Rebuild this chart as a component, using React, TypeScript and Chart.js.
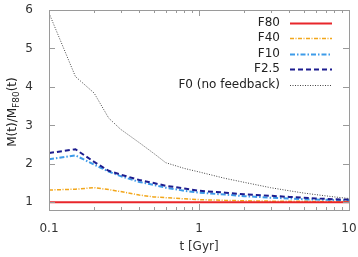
import React, { useEffect, useRef } from 'react';
import { Chart, registerables } from 'chart.js';
Chart.register(...registerables);

const times = [0.1, 0.15, 0.2, 0.25, 0.3, 0.4, 0.5, 0.6, 0.8, 1, 1.5, 2, 3, 4, 5, 6, 8, 10];
const f80 = [1, 1, 1, 1, 1, 1, 1, 1, 1, 1, 1, 1, 1, 1, 1, 1, 1, 1];
const f40 = [1.32, 1.34, 1.38, 1.33, 1.28, 1.19, 1.14, 1.12, 1.09, 1.07, 1.05, 1.04, 1.03, 1.03, 1.03, 1.02, 1.02, 1.02];
const f10 = [2.12, 2.22, 1.98, 1.8, 1.68, 1.53, 1.45, 1.38, 1.3, 1.25, 1.2, 1.16, 1.12, 1.1, 1.08, 1.07, 1.06, 1.05];
const f25 = [2.28, 2.38, 2.05, 1.82, 1.72, 1.58, 1.5, 1.43, 1.36, 1.3, 1.25, 1.21, 1.17, 1.14, 1.12, 1.1, 1.08, 1.07];
const f0 = [5.92, 4.27, 3.84, 3.19, 2.9, 2.55, 2.27, 2.03, 1.88, 1.79, 1.62, 1.52, 1.38, 1.3, 1.24, 1.2, 1.14, 1.1];
const seriesLabels = ['F80', 'F40', 'F10', 'F2.5', 'F0 (no feedback)'];
const seriesValues = [f80, f40, f10, f25, f0];
const xTickValues = [0.1, 1, 10];
const xMinorTicks = [0.2, 0.3, 0.4, 0.5, 0.6, 0.7, 0.8, 0.9, 2, 3, 4, 5, 6, 7, 8, 9];
const yTickValues = [1, 2, 3, 4, 5, 6];
const xTitle = 't [Gyr]';

const FONT = 'DejaVu Sans';

export default function App() {
  const ref = useRef<HTMLCanvasElement>(null);
  useEffect(() => {
    document.body.style.margin = '0';
    const styles = [
      { color: '#e8262b', dash: [] as number[], width: 2 },
      { color: '#f2a61a', dash: [4, 1.5, 1, 1.5], width: 1.5 },
      { color: '#3d9be9', dash: [5, 2, 1.5, 2], width: 2 },
      { color: '#1d1d8f', dash: [5, 3], width: 2 },
      { color: '#444444', dash: [1, 1.5], width: 1 },
    ];
    const datasets = seriesLabels.map((label, i) => ({
      label,
      data: times.map((t, j) => ({ x: t, y: seriesValues[i][j] })),
      borderColor: styles[i].color,
      borderDash: styles[i].dash,
      borderWidth: styles[i].width,
      pointRadius: 0,
      fill: false,
      tension: 0,
      order: i === 0 ? 0 : 5 - i,
    }));

    const deco = {
      id: 'deco',
      afterDraw(chart: any) {
        const ctx = chart.ctx as CanvasRenderingContext2D;
        const { left, right, top, bottom } = chart.chartArea;
        const xs = chart.scales.x;
        const ys = chart.scales.y;
        ctx.save();
        ctx.strokeStyle = '#9a9a9a';
        ctx.lineWidth = 1;
        ctx.setLineDash([]);
        ctx.strokeRect(Math.round(left) + 0.5, Math.round(top) + 0.5, Math.round(right - left), Math.round(bottom - top));
        ctx.beginPath();
        for (const v of xTickValues) {
          const px = Math.round(xs.getPixelForValue(v)) + 0.5;
          ctx.moveTo(px, bottom); ctx.lineTo(px, bottom - 6);
          ctx.moveTo(px, top); ctx.lineTo(px, top + 6);
        }
        for (const v of xMinorTicks) {
          const px = Math.round(xs.getPixelForValue(v)) + 0.5;
          ctx.moveTo(px, bottom); ctx.lineTo(px, bottom - 3);
          ctx.moveTo(px, top); ctx.lineTo(px, top + 3);
        }
        for (const v of yTickValues) {
          const py = Math.round(ys.getPixelForValue(v)) + 0.5;
          ctx.moveTo(left, py); ctx.lineTo(left + 6, py);
          ctx.moveTo(right, py); ctx.lineTo(right - 6, py);
        }
        ctx.stroke();

        // legend
        ctx.font = `12px "${FONT}"`;
        ctx.fillStyle = '#222';
        ctx.textAlign = 'right';
        ctx.textBaseline = 'middle';
        seriesLabels.forEach((lab, i) => {
          const y = 22.5 + i * 15.5;
          ctx.fillText(lab, 280, y);
          ctx.beginPath();
          ctx.strokeStyle = styles[i].color;
          ctx.lineWidth = styles[i].width;
          ctx.setLineDash(styles[i].dash);
          ctx.moveTo(290, Math.round(y) + 0.5);
          ctx.lineTo(332, Math.round(y) + 0.5);
          ctx.stroke();
        });
        ctx.setLineDash([]);

        // x title
        ctx.fillStyle = '#333';
        ctx.textAlign = 'center';
        ctx.textBaseline = 'middle';
        ctx.fillText(xTitle, (left + right) / 2, 247);

        // y title with subscript
        ctx.translate(12, (top + bottom) / 2 + 2);
        ctx.rotate(-Math.PI / 2);
        ctx.fillStyle = '#222';
        ctx.textBaseline = 'alphabetic';
        ctx.textAlign = 'left';
        const main1 = 'M(t)/M';
        const sub = 'F80';
        const main2 = '(t)';
        ctx.font = `12px "${FONT}"`;
        const w1 = ctx.measureText(main1).width;
        const w3 = ctx.measureText(main2).width;
        ctx.font = `9px "${FONT}"`;
        const w2 = ctx.measureText(sub).width;
        const total = w1 + w2 + w3;
        let x0 = -total / 2;
        ctx.font = `12px "${FONT}"`;
        ctx.fillText(main1, x0, 4);
        x0 += w1;
        ctx.font = `9px "${FONT}"`;
        ctx.fillText(sub, x0, 7);
        x0 += w2;
        ctx.font = `12px "${FONT}"`;
        ctx.fillText(main2, x0, 4);
        ctx.restore();
      },
    };

    const chart = new Chart(ref.current!, {
      type: 'line',
      data: { datasets },
      options: {
        animation: false,
        responsive: false,
        layout: { padding: { top: 10, right: 9, left: 0, bottom: 0 } },
        plugins: { legend: { display: false }, tooltip: { enabled: false } },
        scales: {
          x: {
            type: 'logarithmic',
            min: 0.1,
            max: 10,
            grid: { display: false },
            border: { display: false },
            afterBuildTicks: (s: any) => { s.ticks = xTickValues.map((v) => ({ value: v })); },
            afterFit: (s: any) => { s.height = 47; s.paddingLeft = 0; s.paddingRight = 0; },
            ticks: {
              autoSkip: false,
              maxRotation: 0,
              padding: 4,
              color: '#333',
              font: { family: FONT, size: 12 },
              callback: (v: any) => String(v),
            },
            title: { display: false },
          },
          y: {
            type: 'linear',
            min: 0.8,
            max: 6,
            grid: { display: false },
            border: { display: false },
            afterBuildTicks: (s: any) => { s.ticks = yTickValues.map((v) => ({ value: v })); },
            afterFit: (s: any) => { s.width = 49; s.paddingTop = 0; s.paddingBottom = 0; },
            ticks: { padding: 8, color: '#333', font: { family: FONT, size: 12 } },
          },
        },
      },
      plugins: [deco],
    } as any);
    return () => chart.destroy();
  }, []);
  return (
    <div style={{ position: 'absolute', left: 0, top: 0, width: 358, height: 257 }}>
      <canvas ref={ref} width={358} height={257} />
    </div>
  );
}
